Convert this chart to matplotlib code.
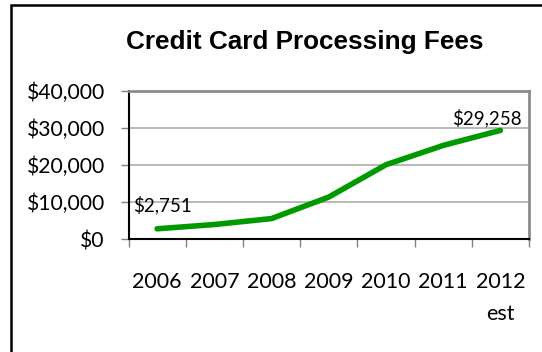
import matplotlib
matplotlib.use("Agg")
import matplotlib.pyplot as plt
from matplotlib.patches import Rectangle
import numpy as np

# Annual credit card processing fees
years = ["2006", "2007", "2008", "2009", "2010", "2011", "2012\nest"]
fees = [2751, 3900, 5500, 11300, 20000, 25200, 29258]
y_ticks = [0, 10000, 20000, 30000, 40000]
y_tick_labels = ["$0", "$10,000", "$20,000", "$30,000", "$40,000"]
title = "Credit Card Processing Fees"

FONT = "Lato"
GREEN = "#009900"
W, H = 542, 352

fig = plt.figure(figsize=(W / 100, H / 100), dpi=100)
fig.patch.set_facecolor("white")

# outer chart frame (runs off the right and bottom edges)
fig.patches.append(Rectangle((11 / W, -0.1), 1.2, 1 - 5.5 / H + 0.1,
                             transform=fig.transFigure, fill=False,
                             edgecolor="black", linewidth=1.8, zorder=0))

ax = fig.add_axes([128.5 / W, 1 - 239 / H, 400.5 / W, 148.5 / H])
x = np.arange(len(years))
ax.plot(x, fees, color=GREEN, linewidth=4.0, solid_capstyle="round",
        solid_joinstyle="round", zorder=3)

ax.set_xlim(-0.5, len(years) - 0.5)
ax.set_ylim(0, 40000)
ax.set_yticks(y_ticks)
ax.set_yticklabels(y_tick_labels, fontfamily=FONT, fontsize=15.2)
ax.set_xticks(x)
ax.set_xticklabels(years, fontfamily=FONT, fontsize=15.5, linespacing=1.75)
ax.set_xticks(np.arange(len(years) + 1) - 0.5, minor=True)

ax.tick_params(axis="x", which="major", length=0, pad=24)
ax.tick_params(axis="x", which="minor", length=6, color="#808080", width=1)
ax.tick_params(axis="y", which="major", length=6, color="#808080", width=1,
               pad=11)

ax.grid(axis="y", color="#a6a6a6", linewidth=1.1, zorder=0)
ax.set_axisbelow(True)
for side in ("top", "right"):
    ax.spines[side].set_color("#8c8c8c")
    ax.spines[side].set_linewidth(2.0)
for side in ("left", "bottom"):
    ax.spines[side].set_color("black")
    ax.spines[side].set_linewidth(1.5)

# value labels on first and last points
ax.annotate("${:,}".format(fees[0]), (x[0], fees[0]), xytext=(3.6, 17.3),
            textcoords="offset points", ha="center", va="center",
            fontfamily=FONT, fontsize=13.5)
ax.annotate("${:,}".format(fees[-1]), (x[-1], fees[-1]), xytext=(-9.4, 8.6),
            textcoords="offset points", ha="center", va="center",
            fontfamily=FONT, fontsize=13.5)

fig.text(304.5 / W, 1 - 42 / H, title, ha="center", va="center",
         fontfamily="Liberation Sans", fontweight="bold", fontsize=18.8)

fig.savefig("out.png", dpi=100)
